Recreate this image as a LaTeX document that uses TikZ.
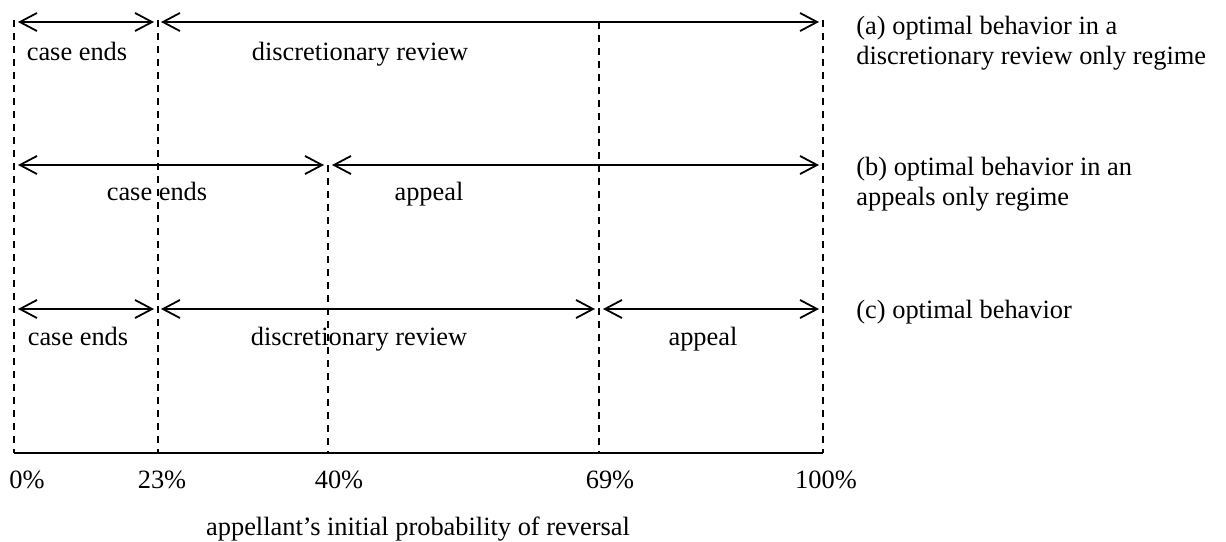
\documentclass[tikz,border=0pt]{standalone}
\usepackage{fontspec}
\setmainfont{Liberation Serif}
\usetikzlibrary{arrows.meta}

\tikzset{
  barb/.tip={Straight Barb[length=8.5pt,width=9pt,line width=0.9pt]},
  spanarrow/.style={line width=0.9pt,barb-barb},
  divider/.style={line width=1pt,dash pattern=on 3.5pt off 3pt},
  lbl/.style={inner sep=0pt,anchor=base,font=\fontsize{13.2}{15}\selectfont},
  side/.style={lbl,anchor=base west,align=left}
}

\begin{document}
\begin{tikzpicture}[x=0.5pt,y=-0.5pt]
    \useasboundingbox (0,0) rectangle (1226,541);
    % axis
    \coordinate (p0) at (14,453);
    \coordinate (p23) at (158,453);
    \coordinate (p40) at (328,453);
    \coordinate (p69) at (599,453);
    \coordinate (p100) at (823,453);
    \coordinate (t0) at (14,20);
    \coordinate (t23) at (158,20);
    \coordinate (t40) at (328,165);
    \coordinate (t69) at (599,22);
    \coordinate (t100) at (823,20);
     \draw [line width=1.2pt] (p0) -- (p100);
     \draw [divider] (t0) -- (p0);
     \draw [divider] (t23) -- (p23);
     \draw [divider] (t40) -- (p40);
     \draw [divider] (t69) -- (p69);
     \draw [divider] (t100) -- (p100);
    \node [lbl] (l0) at (27,488) {0\%};
    \node [lbl] (l23) at (162,488) {23\%};
    \node [lbl] (l40) at (339,488) {40\%};
    \node [lbl] (l69) at (610,488) {69\%};
    \node [lbl] (l100) at (826,488) {100\%};
    \node [lbl] (axis) at (418,535) {appellant’s initial probability of reversal};
    % (a) discretionary review only
    \coordinate (a1) at (18,22);
    \coordinate (a2) at (154,22);
    \coordinate (a3) at (161,22);
    \coordinate (a4) at (819,22);
     \draw [spanarrow] (a1) -- (a2);
     \draw [spanarrow] (a3) -- (a4);
    \node [lbl] (aend) at (77,60) {case ends};
    \node [lbl] (arev) at (360,60) {discretionary review};
    \node [side] (alab) at (856,64) {(a) optimal behavior in a\\discretionary review only regime};
    % (b) appeals only
    \coordinate (b1) at (18,165);
    \coordinate (b2) at (324,165);
    \coordinate (b3) at (332,165);
    \coordinate (b4) at (819,165);
     \draw [spanarrow] (b1) -- (b2);
     \draw [spanarrow] (b3) -- (b4);
    \node [lbl] (bend) at (157,200) {case ends};
    \node [lbl] (bapp) at (429,200) {appeal};
    \node [side] (blab) at (856,205) {(b) optimal behavior in an\\appeals only regime};
    % (c) optimal
    \coordinate (c1) at (18,309);
    \coordinate (c2) at (154,309);
    \coordinate (c3) at (161,309);
    \coordinate (c4) at (595,309);
    \coordinate (c5) at (603,309);
    \coordinate (c6) at (819,309);
     \draw [spanarrow] (c1) -- (c2);
     \draw [spanarrow] (c3) -- (c4);
     \draw [spanarrow] (c5) -- (c6);
    \node [lbl] (cend) at (78,345) {case ends};
    \node [lbl] (crev) at (359,345) {discretionary review};
    \node [lbl] (capp) at (703,345) {appeal};
    \node [side] (clab) at (856,318) {(c) optimal behavior};
\end{tikzpicture}
\end{document}
